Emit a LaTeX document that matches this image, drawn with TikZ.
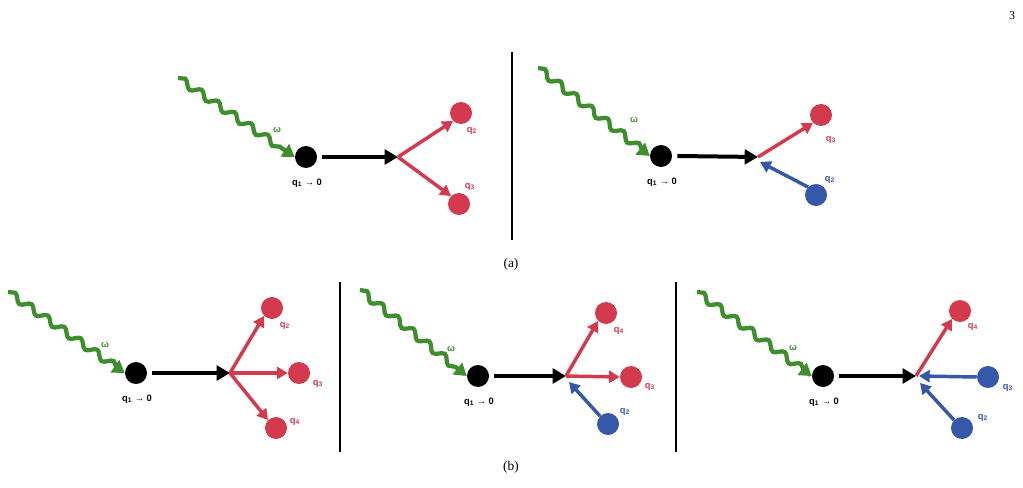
\documentclass[tikz,border=0pt]{standalone}
\usepackage{fontspec}
\setmainfont{Liberation Serif}
\newfontfamily\lab{Liberation Sans}
\usetikzlibrary{arrows.meta,decorations.pathmorphing}
\definecolor{gr}{HTML}{3E8E2E}
\definecolor{rd}{HTML}{D33A4E}
\definecolor{bl}{HTML}{3558A8}
\tikzset{
 px/.style={x=0.75pt,y=-0.75pt},
 wave/.style={gr,line width=3.2pt,-{Triangle[length=9pt,width=11pt]},decorate,decoration={snake,amplitude=2.6pt,segment length=15pt,post length=7pt}},
 blk/.style={line width=3pt,-{Triangle[length=10pt,width=11pt]}},
 rarr/.style={rd,line width=2.6pt,-{Triangle[length=8pt,width=9pt]}},
 barr/.style={bl,line width=2.6pt,-{Triangle[length=8pt,width=9pt]}},
 bdot/.style={circle,fill=black,minimum size=16.5pt,inner sep=0},
 rdot/.style={circle,fill=rd,minimum size=16.5pt,inner sep=0},
 bldot/.style={circle,fill=bl,minimum size=16.5pt,inner sep=0},
 lb/.style={font=\lab\bfseries\scriptsize,inner sep=0},
 div/.style={line width=1pt},
}
\newcommand{\qq}[1]{q\textsubscript{\tiny #1}}
\begin{document}
\begin{tikzpicture}[px]
\useasboundingbox (0,0) rectangle (1023,488);
\node[font=\small] (pg) at (1012,16) {3};
% (a) left
\coordinate (w1s) at (178,78); \node[bdot] (d1) at (306,157) {};
\draw[wave] (w1s) -- (d1.west);
\node[lb,gr] (o1) at (277,130) {ω};
\node[lb] (l1) at (307,183) {\qq1 → 0};
\coordinate (v1) at (398,157);
\draw[blk] (d1.east) ++(5,0) -- (v1);
\node[rdot] (a1q2) at (461,113) {}; \node[rdot] (a1q3) at (459,204) {};
\draw[rarr] (v1) -- (a1q2.south west);
\draw[rarr] (v1) -- (a1q3.north west);
\node[lb,rd] at (472,131) {\qq2}; \node[lb,rd] at (470,187) {\qq3};
\draw[div] (512,52) -- (512,240);
% (a) right
\coordinate (w2s) at (538,68); \node[bdot] (d2) at (661,156) {};
\draw[wave] (w2s) -- (d2.west);
\node[lb,gr] at (634,120) {ω};
\node[lb] at (662,182) {\qq1 → 0};
\coordinate (v2) at (758,157);
\draw[blk] (d2.east) ++(5,0) -- (v2);
\node[rdot] (a2q3) at (821,115) {}; \node[bldot] (a2q2) at (816,195) {};
\draw[rarr] (v2) -- (a2q3.south west);
\draw[barr] (a2q2.north west) -- (760,162);
\node[lb,rd] at (831,140) {\qq3}; \node[lb,bl] at (830,180) {\qq2};
\node (ca) at (511,264) {(a)};
% (b) 1
\coordinate (w3s) at (8,292); \node[bdot] (d3) at (136,373) {};
\draw[wave] (w3s) -- (d3.west);
\node[lb,gr] at (105,345) {ω};
\node[lb] at (137,399) {\qq1 → 0};
\coordinate (v3) at (230,373);
\draw[blk] (d3.east) ++(5,0) -- (v3);
\node[rdot] (b1q2) at (272,308) {}; \node[rdot] (b1q3) at (299,373) {}; \node[rdot] (b1q4) at (276,428) {};
\draw[rarr] (v3) -- (b1q2.south west);
\draw[rarr] (v3) -- (b1q3.west);
\draw[rarr] (v3) -- (b1q4.north west);
\node[lb,rd] at (285,326) {\qq2}; \node[lb,rd] at (318,384) {\qq3}; \node[lb,rd] at (295,422) {\qq4};
\draw[div] (340,282) -- (340,452);
% (b) 2
\coordinate (w4s) at (360,290); \node[bdot] (d4) at (478,376) {};
\draw[wave] (w4s) -- (d4.west);
\node[lb,gr] at (451,349) {ω};
\node[lb] at (479,402) {\qq1 → 0};
\coordinate (v4) at (566,376);
\draw[blk] (d4.east) ++(5,0) -- (v4);
\node[rdot] (b2q4) at (606,313) {}; \node[rdot] (b2q3) at (631,377) {}; \node[bldot] (b2q2) at (608,424) {};
\draw[rarr] (v4) -- (b2q4.south west);
\draw[rarr] (v4) -- (b2q3.west);
\draw[barr] (b2q2.north west) -- (569,382);
\node[lb,rd] at (619,331) {\qq4}; \node[lb,rd] at (650,387) {\qq3}; \node[lb,bl] at (625,412) {\qq2};
\draw[div] (676,282) -- (676,452);
% (b) 3
\coordinate (w5s) at (697,292); \node[bdot] (d5) at (823,376) {};
\draw[wave] (w5s) -- (d5.west);
\node[lb,gr] at (793,348) {ω};
\node[lb] at (824,402) {\qq1 → 0};
\coordinate (v5) at (916,376);
\draw[blk] (d5.east) ++(5,0) -- (v5);
\node[rdot] (b3q4) at (960,311) {}; \node[bldot] (b3q3) at (988,377) {}; \node[bldot] (b3q2) at (962,428) {};
\draw[rarr] (v5) -- (b3q4.south west);
\draw[barr] (b3q3.west) -- (919,376);
\draw[barr] (b3q2.north west) -- (920,383);
\node[lb,rd] at (973,327) {\qq4}; \node[lb,bl] at (1008,388) {\qq3}; \node[lb,bl] at (983,418) {\qq2};
\node (cb) at (511,467) {(b)};
\end{tikzpicture}
\end{document}
